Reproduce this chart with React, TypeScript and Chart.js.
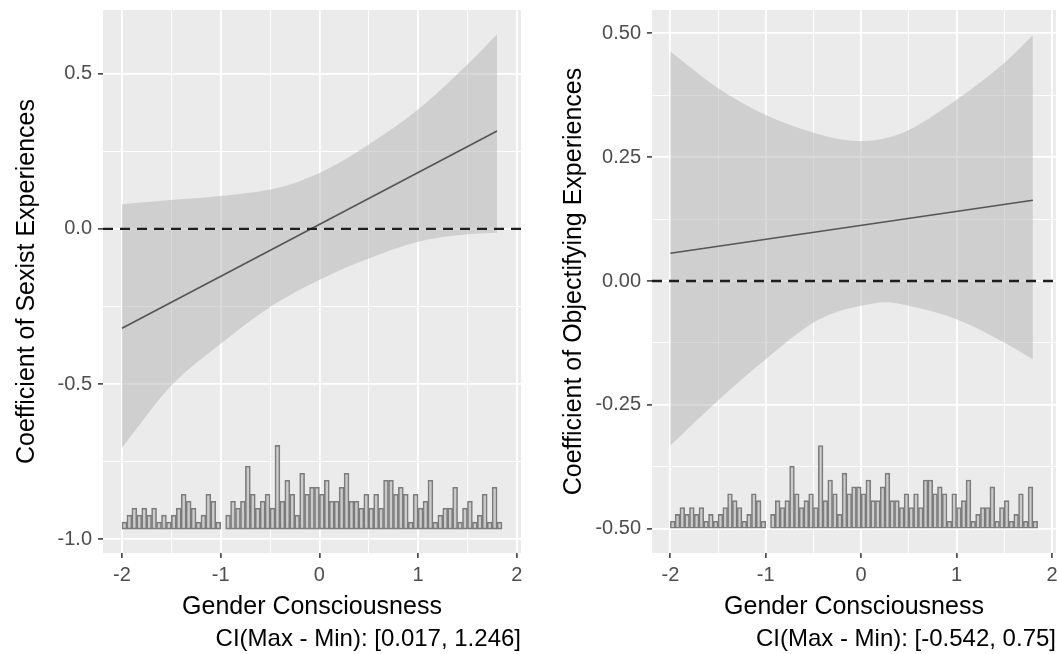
import React, { useEffect, useRef } from "react";
import { Chart, registerables } from "chart.js";

Chart.register(...registerables);

// ---------------- data ----------------
const X_TICKS = [-2, -1.5, -1, -0.5, 0, 0.5, 1, 1.5, 2];
const X_MAJOR = [-2, -1, 0, 1, 2];
const X_MIN = -2.1925;
const X_MAX = 2.0425;

const LINE_X = [-2, 1.8];
const SEXIST_LINE = [-0.32, 0.316];
const OBJ_LINE = [0.056, 0.163];

const RIBBON_X = [-2, -1.5, -1, -0.5, -0.25, 0, 0.25, 0.5, 1, 1.5, 1.8];
const SEXIST_UPPER = [0.08, 0.093, 0.106, 0.127, 0.148, 0.18, 0.222, 0.272, 0.385, 0.53, 0.627];
const SEXIST_LOWER = [-0.705, -0.505, -0.37, -0.252, -0.205, -0.165, -0.127, -0.095, -0.041, -0.017, -0.012];
const OBJ_UPPER = [0.463, 0.389, 0.335, 0.299, 0.287, 0.282, 0.288, 0.305, 0.366, 0.44, 0.496];
const OBJ_LOWER = [-0.332, -0.241, -0.158, -0.084, -0.062, -0.05, -0.043, -0.05, -0.077, -0.124, -0.158];

// histogram of the moderator (bin counts, bins of width 0.05 starting at -2)
const HIST_START = -2;
const HIST_WIDTH = 0.05;
const HIST_COUNTS = [
  1, 2, 3, 2, 3, 2, 3, 1, 2, 1, 2, 3, 5, 4, 3, 1, 2, 5, 4, 1, 0, 2, 4, 3, 4, 9,
  5, 3, 4, 5, 3, 12, 4, 7, 5, 2, 8, 5, 6, 6, 5, 7, 4, 4, 6, 8, 4, 4, 3, 5, 3, 5, 3, 7,
  7, 5, 6, 5, 1, 5, 3, 4, 7, 1, 2, 3, 3, 6, 1, 3, 4, 1, 2, 5, 1, 6, 1,
];

const SEXIST_Y_TICKS = [-1, -0.75, -0.5, -0.25, 0, 0.25, 0.5];
const SEXIST_Y_MAJOR = [-1, -0.5, 0, 0.5];
const OBJ_Y_TICKS = [-0.5, -0.375, -0.25, -0.125, 0, 0.125, 0.25, 0.375, 0.5];
const OBJ_Y_MAJOR = [-0.5, -0.25, 0, 0.25, 0.5];

const ZERO_LINE = 0;

// ---------------- style ----------------
const FONT = "'Liberation Sans', Arial, Helvetica, sans-serif";
const PANEL_BG = "#EBEBEB";

const near = (v: number, list: number[]) => list.some((a) => Math.abs(a - v) < 1e-9);

const bgPlugin = {
  id: "panelBg",
  beforeDraw(chart: any) {
    const { ctx, chartArea } = chart;
    ctx.save();
    ctx.fillStyle = PANEL_BG;
    ctx.fillRect(chartArea.left, chartArea.top, chartArea.right - chartArea.left, chartArea.bottom - chartArea.top);
    ctx.restore();
  },
};

const zeroPlugin = {
  id: "zeroLine",
  afterDatasetsDraw(chart: any, _a: any, opts: any) {
    const { ctx, chartArea } = chart;
    const y = chart.scales.y.getPixelForValue(opts.value);
    ctx.save();
    ctx.beginPath();
    ctx.setLineDash([10, 7]);
    ctx.lineWidth = 2.3;
    ctx.strokeStyle = "#1E1E1E";
    ctx.moveTo(chartArea.left, y);
    ctx.lineTo(chartArea.right, y);
    ctx.stroke();
    ctx.restore();
  },
};

const captionPlugin = {
  id: "caption",
  afterDraw(chart: any, _a: any, opts: any) {
    const { ctx, chartArea } = chart;
    ctx.save();
    ctx.font = `${opts.size}px ${FONT}`;
    ctx.fillStyle = "#000000";
    ctx.textAlign = "right";
    ctx.textBaseline = "middle";
    ctx.fillText(opts.text, chartArea.right, chartArea.bottom + opts.offset);
    ctx.restore();
  },
};

type PanelSpec = {
  yTitle: string;
  caption: string;
  line: number[];
  upper: number[];
  lower: number[];
  yMin: number;
  yMax: number;
  yTicks: number[];
  yMajor: number[];
  yDecimals: number;
  histBase: number;
  histUnit: number;
  yAxisWidth: number;
  yTitlePad: number;
  padRight: number;
};

function makeConfig(spec: PanelSpec): any {
  const hist = HIST_COUNTS.map((c, i) => ({
    x: HIST_START + HIST_WIDTH * (i + 0.5),
    y: [spec.histBase, spec.histBase + c * spec.histUnit],
  }));
  const gridWidth = (majors: number[]) => (ctx: any) =>
    ctx.tick && near(ctx.tick.value, majors) ? 1.8 : 0.9;
  const tickColor = (majors: number[]) => (ctx: any) =>
    ctx.tick && near(ctx.tick.value, majors) ? "#333333" : "rgba(0,0,0,0)";

  return {
    type: "line",
    data: {
      datasets: [
        {
          type: "line",
          data: LINE_X.map((x, i) => ({ x, y: spec.line[i] })),
          borderColor: "#555555",
          borderWidth: 1.6,
          pointRadius: 0,
          fill: false,
        },
        {
          type: "line",
          data: RIBBON_X.map((x, i) => ({ x, y: spec.upper[i] })),
          borderWidth: 0,
          borderColor: "rgba(0,0,0,0)",
          backgroundColor: "rgba(179,179,179,0.5)",
          pointRadius: 0,
          fill: "+1",
          cubicInterpolationMode: "monotone",
        },
        {
          type: "line",
          data: RIBBON_X.map((x, i) => ({ x, y: spec.lower[i] })),
          borderWidth: 0,
          borderColor: "rgba(0,0,0,0)",
          pointRadius: 0,
          fill: false,
          cubicInterpolationMode: "monotone",
        },
        {
          type: "bar",
          data: hist,
          backgroundColor: "#CBCBCB",
          borderColor: "#7C7C7C",
          borderWidth: 1.6,
          borderSkipped: false,
          barPercentage: 1,
          categoryPercentage: 1,
          grouped: false,
        },
      ],
    },
    options: {
      responsive: false,
      animation: false,
      events: [],
      layout: { padding: { left: 0, right: spec.padRight, top: 10, bottom: 30 } },
      plugins: {
        legend: { display: false },
        tooltip: { enabled: false },
        zeroLine: { value: ZERO_LINE },
        caption: { text: spec.caption, size: 24, offset: 86 },
      },
      scales: {
        x: {
          type: "linear",
          min: X_MIN,
          max: X_MAX,
          bounds: "data",
          offset: false,
          afterBuildTicks: (s: any) => {
            s.ticks = X_TICKS.map((value) => ({ value }));
          },
          afterFit: (s: any) => {
            s.height = 71;
            s.paddingLeft = 0;
            s.paddingRight = 0;
          },
          ticks: {
            autoSkip: false,
            maxRotation: 0,
            padding: 5,
            color: "#4D4D4D",
            font: { family: FONT, size: 20 },
            callback: (v: number) => (near(v, X_MAJOR) ? String(v) : ""),
          },
          grid: {
            offset: false,
            color: "#FFFFFF",
            lineWidth: gridWidth(X_MAJOR),
            tickLength: 5,
            tickWidth: 1.5,
            tickColor: tickColor(X_MAJOR),
          },
          border: { display: false },
          title: {
            display: true,
            text: "Gender Consciousness",
            color: "#000000",
            font: { family: FONT, size: 25, lineHeight: 1.2 },
            padding: { top: 0, bottom: 2 },
          },
        },
        y: {
          type: "linear",
          min: spec.yMin,
          max: spec.yMax,
          bounds: "data",
          afterBuildTicks: (s: any) => {
            s.ticks = spec.yTicks.map((value) => ({ value }));
          },
          afterFit: (s: any) => {
            s.width = spec.yAxisWidth;
            s.paddingTop = 0;
            s.paddingBottom = 0;
          },
          ticks: {
            autoSkip: false,
            padding: 6,
            color: "#4D4D4D",
            font: { family: FONT, size: 20 },
            callback: (v: number) => (near(v, spec.yMajor) ? v.toFixed(spec.yDecimals) : ""),
          },
          grid: {
            color: "#FFFFFF",
            lineWidth: gridWidth(spec.yMajor),
            tickLength: 5,
            tickWidth: 1.5,
            tickColor: tickColor(spec.yMajor),
          },
          border: { display: false },
          title: {
            display: true,
            text: spec.yTitle,
            color: "#000000",
            font: { family: FONT, size: 25, lineHeight: 1.2 },
            padding: { top: spec.yTitlePad, bottom: 0 },
          },
        },
      },
    },
    plugins: [bgPlugin, zeroPlugin, captionPlugin],
  };
}

const LEFT: PanelSpec = {
  yTitle: "Coefficient of Sexist Experiences",
  caption: "CI(Max - Min): [0.017, 1.246]",
  line: SEXIST_LINE,
  upper: SEXIST_UPPER,
  lower: SEXIST_LOWER,
  yMin: -1.045,
  yMax: 0.706,
  yTicks: SEXIST_Y_TICKS,
  yMajor: SEXIST_Y_MAJOR,
  yDecimals: 1,
  histBase: -0.968,
  histUnit: 0.0225,
  yAxisWidth: 103,
  yTitlePad: 12,
  padRight: 9,
};

const RIGHT: PanelSpec = {
  yTitle: "Coefficient of Objectifying Experiences",
  caption: "CI(Max - Min): [-0.542, 0.75]",
  line: OBJ_LINE,
  upper: OBJ_UPPER,
  lower: OBJ_LOWER,
  yMin: -0.549,
  yMax: 0.547,
  yTicks: OBJ_Y_TICKS,
  yMajor: OBJ_Y_MAJOR,
  yDecimals: 2,
  histBase: -0.499,
  histUnit: 0.0139,
  yAxisWidth: 122,
  yTitlePad: 29,
  padRight: 1,
};

function Panel({ spec, left, width }: { spec: PanelSpec; left: number; width: number }) {
  const ref = useRef<HTMLCanvasElement | null>(null);
  useEffect(() => {
    if (!ref.current) return;
    const chart = new Chart(ref.current, makeConfig(spec));
    return () => chart.destroy();
  }, [spec]);
  return (
    <canvas
      ref={ref}
      width={width}
      height={654}
      style={{ position: "absolute", left, top: 0, width, height: 654, display: "block" }}
    />
  );
}

export default function App() {
  useEffect(() => {
    document.body.style.margin = "0";
    document.body.style.background = "#FFFFFF";
  }, []);
  return (
    <div style={{ position: "absolute", left: 0, top: 0, width: 1057, height: 654, background: "#FFFFFF", overflow: "hidden" }}>
      <Panel spec={LEFT} left={0} width={530} />
      <Panel spec={RIGHT} left={530} width={527} />
    </div>
  );
}
